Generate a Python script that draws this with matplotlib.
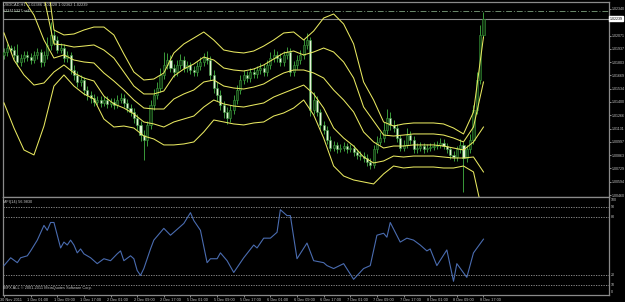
import matplotlib
matplotlib.use('Agg')
import matplotlib.pyplot as plt
import matplotlib.transforms as mtrans

# ---------------- data ----------------
first_open = 1.0187
closes = [1.0190,1.0195,1.0193,1.0187,1.0180,1.0184,1.0187,1.0185,1.0182,1.0187,
          1.0190,1.0180,1.0187,1.0198,1.0208,1.0203,1.0193,1.0195,1.0184,1.0187,
          1.0172,1.0167,1.0160,1.0162,1.0152,1.0147,1.0144,1.0140,1.0142,1.0139,
          1.0142,1.0138,1.0140,1.0137,1.0142,1.0144,1.0139,1.0134,1.0130,1.0124,
          1.0117,1.0107,1.0102,1.0117,1.0137,1.0147,1.0154,1.0167,1.0177,1.0182,
          1.0174,1.0170,1.0177,1.0182,1.0174,1.0177,1.0172,1.0170,1.0176,1.0180,
          1.0184,1.0182,1.0167,1.0154,1.0147,1.0137,1.0130,1.0124,1.0132,1.0142,
          1.0152,1.0162,1.0167,1.0164,1.0170,1.0168,1.0172,1.0174,1.0170,1.0177,
          1.0184,1.0187,1.0184,1.0180,1.0187,1.0190,1.0170,1.0177,1.0182,1.0187,
          1.0198,1.0203,1.0132,1.0142,1.0130,1.0117,1.0112,1.0102,1.0094,1.0097,
          1.0092,1.0094,1.0096,1.0092,1.0094,1.0089,1.0086,1.0085,1.0083,1.0079,
          1.0076,1.0092,1.0100,1.0104,1.0112,1.0124,1.0117,1.0114,1.0104,1.0094,
          1.0097,1.0107,1.0102,1.0092,1.0094,1.0096,1.0092,1.0094,1.0095,1.0096,
          1.0097,1.0099,1.0096,1.0092,1.0086,1.0084,1.0092,1.0097,1.0083,1.0092,
          1.0102,1.0132,1.0162,1.0208,1.02239]
highs = [1.0195,1.0199,1.0198,1.0197,1.0199,1.0188,1.0191,1.0191,1.0189,1.0192,
         1.0195,1.0194,1.0191,1.0206,1.0221,1.0214,1.0207,1.0200,1.0199,1.0192,
         1.0190,1.0177,1.0171,1.0167,1.0165,1.0156,1.0151,1.0148,1.0146,1.0146,
         1.0146,1.0146,1.0144,1.0144,1.0147,1.0149,1.0148,1.0143,1.0138,1.0134,
         1.0128,1.0121,1.0112,1.0121,1.0142,1.0153,1.0160,1.0174,1.0190,1.0189,
         1.0187,1.0178,1.0182,1.0188,1.0186,1.0181,1.0180,1.0176,1.0180,1.0185,
         1.0189,1.0191,1.0186,1.0172,1.0160,1.0152,1.0141,1.0135,1.0137,1.0147,
         1.0157,1.0167,1.0172,1.0171,1.0174,1.0174,1.0176,1.0179,1.0178,1.0182,
         1.0190,1.0194,1.0192,1.0189,1.0192,1.0196,1.0195,1.0181,1.0187,1.0193,
         1.0204,1.0210,1.0206,1.0150,1.0146,1.0133,1.0121,1.0116,1.0106,1.0101,
         1.0100,1.0098,1.0100,1.0099,1.0098,1.0097,1.0092,1.0090,1.0089,1.0087,
         1.0083,1.0097,1.0106,1.0110,1.0120,1.0133,1.0130,1.0122,1.0118,1.0107,
         1.0102,1.0114,1.0111,1.0106,1.0099,1.0100,1.0099,1.0098,1.0099,1.0100,
         1.0101,1.0104,1.0103,1.0099,1.0095,1.0090,1.0096,1.0103,1.0100,1.0097,
         1.0108,1.0137,1.0170,1.0218,1.0231]
lows = [1.0183,1.0186,1.0189,1.0183,1.0176,1.0176,1.0180,1.0181,1.0178,1.0179,
        1.0183,1.0175,1.0176,1.0183,1.0193,1.0198,1.0189,1.0189,1.0180,1.0180,
        1.0168,1.0162,1.0155,1.0156,1.0147,1.0142,1.0139,1.0136,1.0137,1.0135,
        1.0136,1.0134,1.0135,1.0133,1.0134,1.0139,1.0135,1.0130,1.0126,1.0119,
        1.0112,1.0101,1.0081,1.0096,1.0113,1.0132,1.0143,1.0150,1.0163,1.0173,
        1.0170,1.0165,1.0166,1.0173,1.0170,1.0170,1.0168,1.0166,1.0166,1.0172,
        1.0176,1.0178,1.0162,1.0149,1.0141,1.0132,1.0124,1.0118,1.0120,1.0128,
        1.0138,1.0148,1.0158,1.0160,1.0160,1.0164,1.0164,1.0168,1.0166,1.0166,
        1.0173,1.0180,1.0180,1.0176,1.0176,1.0183,1.0166,1.0166,1.0173,1.0178,
        1.0183,1.0194,1.0126,1.0128,1.0126,1.0113,1.0108,1.0098,1.0090,1.0090,
        1.0088,1.0089,1.0090,1.0088,1.0089,1.0085,1.0082,1.0081,1.0079,1.0075,
        1.0072,1.0073,1.0088,1.0097,1.0100,1.0108,1.0112,1.0110,1.0100,1.0090,
        1.0090,1.0093,1.0098,1.0088,1.0088,1.0090,1.0088,1.0089,1.0090,1.0091,
        1.0092,1.0093,1.0092,1.0088,1.0082,1.0080,1.0080,1.0088,1.0049,1.0079,
        1.0088,1.0098,1.0128,1.0158,1.0205]

band_bars = list(range(0, 145, 3))
band_u2 = [1.04218,1.03884,1.03945,1.03693,1.02895,1.02127,1.02077,1.02087,1.02127,1.02157,
           1.02157,1.02077,1.01885,1.01703,1.01622,1.01632,1.01693,1.01895,1.01986,1.02046,
           1.02107,1.02026,1.01925,1.01905,1.01895,1.01915,1.01965,1.02026,1.02097,1.02107,
           1.02026,1.02117,1.02248,1.02289,1.02188,1.01986,1.01602,1.01420,1.01198,1.01157,
           1.01178,1.01188,1.01188,1.01188,1.01178,1.01137,1.01077,1.01299,1.02056]
band_u1 = [1.03511,1.03198,1.03188,1.02986,1.02460,1.01986,1.01976,1.01955,1.01965,1.01976,
           1.01925,1.01844,1.01703,1.01561,1.01481,1.01481,1.01511,1.01662,1.01733,1.01784,
           1.01854,1.01824,1.01743,1.01723,1.01713,1.01733,1.01774,1.01834,1.01895,1.01915,
           1.01875,1.01905,1.01945,1.01905,1.01804,1.01642,1.01349,1.01208,1.01066,1.01056,
           1.01066,1.01077,1.01077,1.01077,1.01066,1.01036,1.00996,1.01147,1.01602]
band_mid = [1.02804,1.02511,1.02430,1.02278,1.02026,1.01844,1.01875,1.01824,1.01804,1.01794,
            1.01693,1.01612,1.01521,1.01420,1.01339,1.01329,1.01329,1.01430,1.01481,1.01521,
            1.01602,1.01622,1.01561,1.01541,1.01531,1.01551,1.01582,1.01642,1.01693,1.01723,
            1.01723,1.01693,1.01642,1.01521,1.01420,1.01299,1.01097,1.00996,1.00935,1.00955,
            1.00955,1.00966,1.00966,1.00966,1.00955,1.00935,1.00915,1.00996,1.01147]
band_l1 = [1.02097,1.01824,1.01673,1.01571,1.01592,1.01703,1.01774,1.01693,1.01642,1.01612,
           1.01460,1.01380,1.01339,1.01279,1.01198,1.01178,1.01147,1.01198,1.01228,1.01258,
           1.01349,1.01420,1.01380,1.01359,1.01349,1.01370,1.01390,1.01450,1.01491,1.01531,
           1.01571,1.01481,1.01339,1.01137,1.01036,1.00955,1.00844,1.00784,1.00804,1.00854,
           1.00844,1.00854,1.00854,1.00854,1.00844,1.00834,1.00834,1.00844,1.00693]
band_l2 = [1.01390,1.01137,1.00915,1.00865,1.01157,1.01561,1.01673,1.01561,1.01481,1.01430,
           1.01228,1.01147,1.01157,1.01137,1.01056,1.01026,1.00966,1.00966,1.00976,1.00996,
           1.01097,1.01218,1.01198,1.01178,1.01168,1.01188,1.01198,1.01258,1.01289,1.01339,
           1.01420,1.01269,1.01036,1.00753,1.00652,1.00612,1.00592,1.00572,1.00673,1.00753,
           1.00733,1.00743,1.00743,1.00743,1.00733,1.00733,1.00753,1.00693,1.00238]

mfi_bars = [0,2,4,5,7,8,10,12,13,14,15,16,17,18,19,20,21,22,23,24,26,28,30,32,34,35,36,38,39,40,
            41,42,44,45,48,50,54,56,57,59,61,62,64,65,67,69,72,75,76,78,80,82,83,85,86,88,91,93,96,97,
            99,102,105,108,110,112,114,115,116,119,121,123,125,127,128,130,133,135,136,139,141,144]
mfi_vals = [30,38,33,38,40,45,56,71,66,74,74,61,48,54,51,56,51,43,47,42,38,32,37,35,42,45,35,40,37,25,
            20,27,47,56,68,61,73,84,76,66,33,37,37,43,35,23,38,51,48,58,58,64,87,81,81,37,53,35,33,30,
            27,32,16,27,30,61,63,59,74,54,58,56,51,45,47,30,46,14,32,18,43,57]

price_ticks = [1.02340, 1.02071, 1.01937, 1.01803, 1.01669, 1.01534, 1.01400, 1.01266,
               1.01131, 1.00997, 1.00863, 1.00729, 1.00594, 1.00460]
bid_price = 1.02239
ask_line = 1.02319
mfi_levels = [90, 80, 20, 10]
mfi_ticks = [100, 90, 80, 20, 10, 0]
time_bars = list(range(0, 145, 8))
time_labels = ["30 Nov 2011", "1 Dec 01:00", "1 Dec 09:00", "1 Dec 17:00", "2 Dec 01:00",
               "2 Dec 09:00", "2 Dec 17:00", "5 Dec 01:00", "5 Dec 09:00", "5 Dec 17:00",
               "6 Dec 01:00", "6 Dec 09:00", "6 Dec 17:00", "7 Dec 01:00", "7 Dec 09:00",
               "7 Dec 17:00", "8 Dec 01:00", "8 Dec 09:00", "8 Dec 17:00"]
title_text = "USDCAD,H1  1.02386 1.02328 1.02362 1.02239"
order_text = "#23415327 sell"
mfi_title = "MFI(14) 56.9830"
copyright_text = "IBFX ALL \u00a9 2001-2011 MetaQuotes Software Corp."

# ---------------- style ----------------
plt.rcParams['font.family'] = ['Liberation Sans', 'DejaVu Sans']
W, H = 625, 302
BG = 'black'
FRAME = '#8a8a8a'
TXT = '#c8c8c8'
WICK = '#3a9a3a'
BULL_FACE = '#123812'
BEAR_FACE = '#e4f4d8'
BAND = '#e8e860'
MFI_C = '#4a6cb0'
FS = 2.8
FS_AX = 2.65

fig = plt.figure(figsize=(W / 100, H / 100), dpi=100, facecolor=BG)
ax = fig.add_axes([3 / W, 1 - 197 / H, 606 / W, 195 / H], facecolor=BG)
ax2 = fig.add_axes([3 / W, 1 - 295 / H, 606 / W, 98 / H], facecolor=BG)

XMIN, XMAX = -0.3, 181.7
ax.set_xlim(XMIN, XMAX)
ax.set_ylim(1.00440, 1.02410)
ax2.set_xlim(XMIN, XMAX)
ax2.set_ylim(0, 100)

# candles
opens = [first_open] + closes[:-1]
for i, (o, h, l, c) in enumerate(zip(opens, highs, lows, closes)):
    ax.vlines(i, l, h, color=WICK, lw=0.7, zorder=2)
    bot = min(o, c)
    hgt = max(abs(c - o), 0.00004)
    face = BULL_FACE if c >= o else BEAR_FACE
    ax.bar(i, hgt, bottom=bot, width=0.62, color=face, edgecolor=WICK,
           linewidth=0.4, zorder=3)

# bands
for band in (band_u2, band_u1, band_mid, band_l1, band_l2):
    ax.plot(band_bars, band, color=BAND, lw=0.75, zorder=4)

# horizontal price lines
ax.axhline(bid_price, color=FRAME, lw=0.8, zorder=1)
ax.axhline(ask_line, color='#6c8a6c', lw=0.7, ls=(0, (6, 2, 1, 2)), zorder=1)

# frames
for a in (ax, ax2):
    for s in a.spines.values():
        s.set_color(FRAME)
        s.set_linewidth(0.9)
    a.tick_params(axis='x', which='both', bottom=False, labelbottom=False)

ax.yaxis.tick_right()
ax.set_yticks(price_ticks)
ax.set_yticklabels(['%.5f' % p for p in price_ticks])
ax.tick_params(axis='y', colors=TXT, labelsize=FS_AX, length=1.5, width=0.5, pad=0.5)
ax.text(1.0012, bid_price, '%.5f' % bid_price, transform=ax.get_yaxis_transform(),
        fontsize=FS_AX, color='black', va='center', ha='left',
        bbox=dict(boxstyle='square,pad=0.12', fc='white', ec='white'))

fig.text(3 / W, 1 - 4.5 / H, title_text, fontsize=FS, color=TXT, va='center', ha='left')
fig.text(3 / W, 1 - 10.5 / H, order_text, fontsize=FS, color=TXT, va='center', ha='left')

# MFI panel
for lv in mfi_levels:
    ax2.axhline(lv, color='#9a9a9a', lw=0.6, ls=(0, (1.5, 1.5)), zorder=1)
ax2.plot(mfi_bars, mfi_vals, color=MFI_C, lw=0.8, zorder=3)
ax2.set_yticks([])
for t in mfi_ticks:
    va = 'center'
    yv = t
    if t == 100:
        va, yv = 'top', 99
    if t == 0:
        va, yv = 'bottom', 1
    ax2.text(1.003, yv, str(t), transform=ax2.get_yaxis_transform(), fontsize=FS_AX,
             color=TXT, va=va, ha='left')
fig.text(3 / W, 1 - 201.5 / H, mfi_title, fontsize=FS, color=TXT, va='center', ha='left')
fig.text(3 / W, 1 - 288.5 / H, copyright_text, fontsize=FS, color=TXT, va='center', ha='left')

# time axis
ax2.set_xticks(time_bars)
ax2.tick_params(axis='x', which='both', bottom=True, labelbottom=True, colors=TXT,
                labelsize=FS, length=1.5, width=0.5, pad=0.6)
ax2.set_xticklabels(time_labels)
shift = mtrans.ScaledTranslation(-3.5 / 100, 0, fig.dpi_scale_trans)
for t in ax2.get_xticklabels():
    t.set_ha('left')
    t.set_transform(t.get_transform() + shift)

fig.savefig('out.png', dpi=100, facecolor=BG)
